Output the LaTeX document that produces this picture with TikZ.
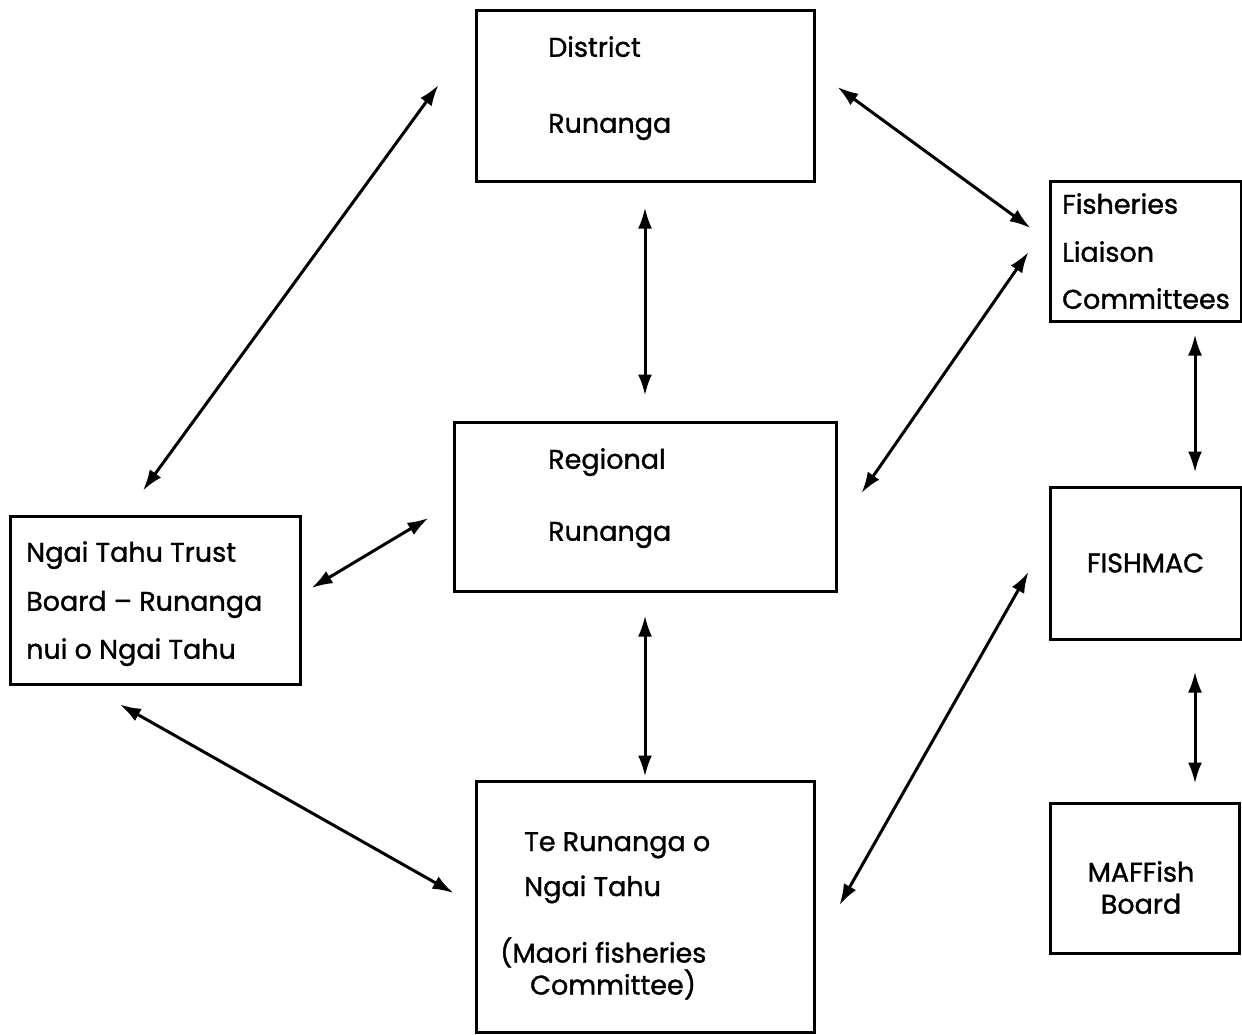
\documentclass[tikz,border=0pt]{standalone}
\usepackage{fontspec}
\setmainfont{Poppins}[FakeBold=1.2]
\usetikzlibrary{arrows.meta}

\begin{document}
\begin{tikzpicture}[x=1pt, y=-1pt,
  every node/.style={font=\fontsize{27}{32}\selectfont},
  box/.style={draw=black, line width=3pt, inner sep=0pt},
  txt/.style={align=left, inner sep=0pt, anchor=north west},
  link/.style={{Latex[length=21pt,width=14pt]}-{Latex[length=21pt,width=14pt]}, line width=3pt},
]

\useasboundingbox (0,0) rectangle (1242,1034);

% boxes
\node[box, minimum width=338pt, minimum height=171pt] (dist) at (645,95.5) {};
\node[box, minimum width=382pt, minimum height=169pt] (reg) at (645,506.5) {};
\node[box, minimum width=338pt, minimum height=251pt] (ter) at (645,906.5) {};
\node[box, minimum width=290pt, minimum height=168pt] (trust) at (155,600) {};
\node[box, minimum width=191pt, minimum height=140pt] (fish) at (1145.5,251) {};
\node[box, minimum width=191pt, minimum height=152pt] (fmac) at (1145.5,563) {FISHMAC};
\node[box, minimum width=189pt, minimum height=150pt] (maf) at (1144.5,878) {};

% texts
\node[txt] (dist-t) at (548,36) {District\\[44pt]Runanga};
\node[txt] (reg-t) at (548,448) {Regional\\[40pt]Runanga};
\node[txt] (ter-t) at (500,832) {%
    \hspace*{24pt}Te Runanga o\\[13pt]
    \hspace*{24pt}Ngai Tahu\\[33pt]
    (Maori fisheries\\
    \hspace*{30pt}Committee)};
\node[txt] (trust-t) at (26,541) {Ngai Tahu Trust\\[17pt]Board -- Runanga\\[16pt]nui o Ngai Tahu};
\node[txt] (fish-t) at (1062,193) {Fisheries\\[16pt]Liaison\\[15pt]Committees};
\node[align=center, inner sep=0pt] (maf-t) at (1141,887.5) {MAFFish\\Board};

% links
\draw[link] ([xshift=-36pt,yshift=10.5pt]dist.west) -- ([xshift=-12pt,yshift=24pt]trust.north);
\draw[link] ([xshift=22pt,yshift=8.5pt]dist.east) -- ([xshift=-18pt,yshift=23pt]fish.west);
\draw[link] ([yshift=-25pt]dist.south) -- ([yshift=25pt]reg.north);
\draw[link] ([xshift=-20pt,yshift=-1pt]fish.west) -- ([xshift=24pt,yshift=13.5pt]reg.east);
\draw[link] ([xshift=-24pt,yshift=-11.5pt]reg.west) -- ([xshift=10pt,yshift=12pt]trust.east);
\draw[link] ([yshift=-23pt]reg.south) -- ([yshift=3pt]ter.north);
\draw[link] ([xshift=-35pt,yshift=-19pt]trust.south) -- ([xshift=-21pt,yshift=13.5pt]ter.west);
\draw[link] ([xshift=-20pt,yshift=-9pt]fmac.west) -- ([xshift=24pt,yshift=1.5pt]ter.east);
\draw[link] ([xshift=49.5pt,yshift=-12pt]fish.south) -- ([xshift=49.5pt,yshift=13pt]fmac.north);
\draw[link] ([xshift=49.5pt,yshift=-31pt]fmac.south) -- ([xshift=50.5pt,yshift=18pt]maf.north);

\end{tikzpicture}
\end{document}
